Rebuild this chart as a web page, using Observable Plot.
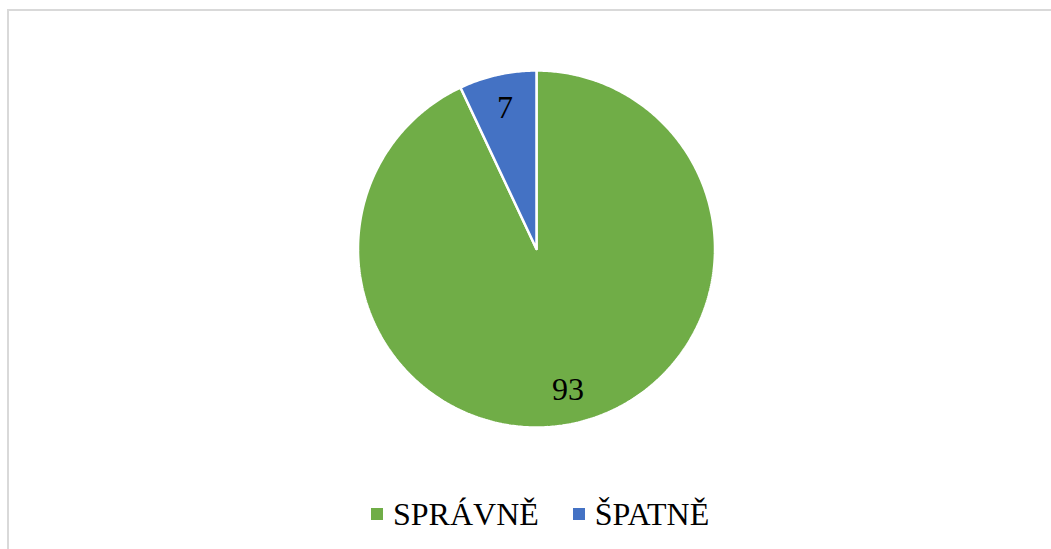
<!DOCTYPE html>
<html>
<head>
<meta charset="utf-8">
<script src="https://cdn.jsdelivr.net/npm/d3@7"></script>
<script src="https://cdn.jsdelivr.net/npm/@observablehq/plot@0.6"></script>
<style>
  html, body { margin: 0; padding: 0; background: #fff; overflow: hidden; width: 1051px; height: 549px; }
  #frame { position: absolute; left: 7px; top: 9px; width: 1100px; height: 600px; border: 2px solid #d9d9d9; box-sizing: border-box; }
  #chart { position: absolute; left: 0; top: 0; }
  #chart svg { display: block; }
  #legend { position: absolute; left: 0; top: 498px; width: 1051px; display: flex; align-items: center; padding-left: 371px; box-sizing: border-box;
            font-family: "Liberation Serif", "Times New Roman", serif; font-size: 32px; line-height: 32px; color: #000; }
  .item { display: flex; align-items: center; margin-right: 34px; }
  .sw { width: 12px; height: 12px; margin-right: 10px; }
</style>
</head>
<body>
<div id="frame"></div>
<div id="chart"></div>
<div id="legend"></div>
<script>
const categories = ["SPRÁVNĚ", "ŠPATNĚ"];
const values = [93, 7];
const colors = ["#70AD47", "#4472C4"];

const data = categories.map((c, i) => ({category: c, value: values[i]}));
const arcs = d3.pie().sort(null).value(d => d.value)(data);

// polygon points for each slice (unit circle, angle clockwise from 12 o'clock)
const slicePts = [];
for (const a of arcs) {
  const n = Math.max(2, Math.ceil((a.endAngle - a.startAngle) / 0.01));
  slicePts.push({category: a.data.category, x: 0, y: 0});
  for (let k = 0; k <= n; k++) {
    const t = a.startAngle + (a.endAngle - a.startAngle) * k / n;
    slicePts.push({category: a.data.category, x: Math.sin(t), y: Math.cos(t)});
  }
  slicePts.push({category: a.data.category, x: 0, y: 0});
}
const labelR = 0.81;
const labels = arcs.map(a => {
  const m = (a.startAngle + a.endAngle) / 2;
  return {label: String(a.data.value), x: labelR * Math.sin(m), y: labelR * Math.cos(m)};
});

const chart = Plot.plot({
  width: 1051,
  height: 490,
  margin: 0,
  x: {domain: [-1, 1], range: [357.5, 714.5], axis: null},
  y: {domain: [-1, 1], range: [427, 70], axis: null},
  color: {domain: categories, range: colors},
  marks: [
    Plot.line(slicePts, {x: "x", y: "y", z: "category", fill: "category", stroke: "white", strokeWidth: 2.5, strokeLinejoin: "miter", curve: "linear"}),
    Plot.text(labels, {x: "x", y: "y", text: "label", fontSize: 32, fill: "black", fontFamily: "Liberation Serif, Times New Roman, serif"})
  ]
});
document.getElementById("chart").appendChild(chart);

const legend = document.getElementById("legend");
categories.forEach((c, i) => {
  const it = document.createElement("div");
  it.className = "item";
  const sw = document.createElement("div");
  sw.className = "sw";
  sw.style.background = colors[i];
  const tx = document.createElement("span");
  tx.textContent = c;
  it.appendChild(sw);
  it.appendChild(tx);
  legend.appendChild(it);
});
</script>
</body>
</html>
